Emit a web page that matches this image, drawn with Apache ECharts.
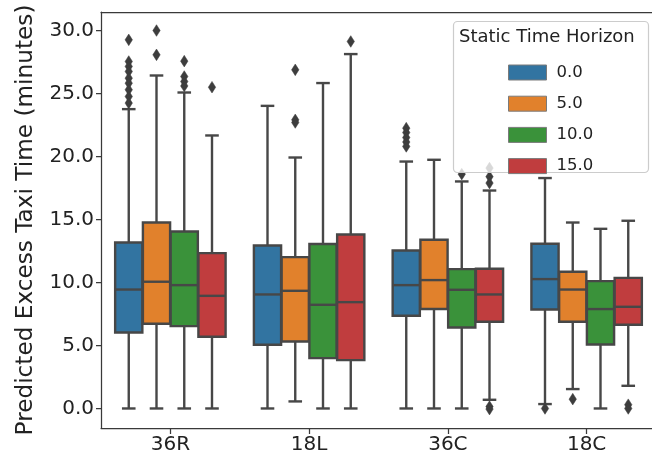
<!DOCTYPE html>
<html>
<head>
<meta charset="utf-8">
<script src="https://cdn.jsdelivr.net/npm/echarts@6/dist/echarts.min.js"></script>
<style>
html,body{margin:0;padding:0;background:#fff;overflow:hidden;}
#chart{width:652px;height:459px;}
</style>
</head>
<body>
<div id="chart"></div>
<script>
// ---- data ----
const categories = ['36R', '18L', '36C', '18C'];
const hues = ['0.0', '5.0', '10.0', '15.0'];
const hueColors = ['#3274a1', '#e1812c', '#3a923a', '#c03d3e'];
const yTicks = [0, 5, 10, 15, 20, 25, 30];

// [min whisker, Q1, median, Q3, max whisker] per category
const stats0 = [
  [0.0, 6.03, 9.44, 13.17, 23.76],
  [0.0, 5.06, 9.05, 12.94, 24.02],
  [0.0, 7.36, 9.79, 12.54, 19.6],
  [0.35, 7.86, 10.27, 13.07, 18.29]
];
const stats5 = [
  [0.0, 6.72, 10.06, 14.76, 26.43],
  [0.56, 5.32, 9.34, 12.01, 19.92],
  [0.0, 7.89, 10.19, 13.39, 19.74],
  [1.54, 6.88, 9.44, 10.85, 14.76]
];
const stats10 = [
  [0.0, 6.54, 9.79, 14.05, 25.08],
  [0.0, 4.0, 8.23, 13.05, 25.83],
  [0.0, 6.43, 9.42, 11.06, 18.02],
  [0.0, 5.08, 7.89, 10.11, 14.26]
];
const stats15 = [
  [0.0, 5.69, 8.94, 12.33, 21.67],
  [0.0, 3.84, 8.44, 13.81, 28.13],
  [0.69, 6.88, 9.05, 11.09, 17.3],
  [1.8, 6.64, 8.07, 10.37, 14.9]
];

// outliers: [category index, value]
const outliers0 = [
  [0, 29.26], [0, 27.54], [0, 27.15], [0, 26.75], [0, 26.22], [0, 25.82], [0, 25.3], [0, 24.76], [0, 24.24],
  [2, 22.25], [2, 21.9], [2, 21.5], [2, 21.15], [2, 20.8],
  [3, 0.0]
];
const outliers5 = [
  [0, 30.0], [0, 28.07],
  [1, 26.88], [1, 22.91], [1, 22.7],
  [3, 0.74]
];
const outliers10 = [
  [0, 27.57], [0, 26.35], [0, 25.95], [0, 25.6],
  [2, 18.6]
];
const outliers15 = [
  [0, 25.5],
  [1, 29.13],
  [2, 19.08], [2, 18.4], [2, 17.89], [2, 0.15], [2, -0.05],
  [3, 0.3], [3, 0.0]
];

const allStats = [stats0, stats5, stats10, stats15];
const allOutliers = [outliers0, outliers5, outliers10, outliers15];

const FONT = 'DejaVu Sans';
const LINE = '#474747';
const SPINE = { color: '#3a3a3a', width: 1.25 };

function boxRenderer(h) {
  return function (params, api) {
    const cat = api.value(0);
    const band = api.size([1, 0])[0];
    const cx = api.coord([cat, 0])[0] + (h - 1.5) * band * 0.2;
    const bw = band * 0.2 * 0.98;
    const cap = bw * 0.5;
    const y = [1, 2, 3, 4, 5].map(i => api.coord([cat, api.value(i)])[1]);
    const ls = { stroke: LINE, lineWidth: 2.4 };
    return {
      type: 'group',
      children: [
        { type: 'line', shape: { x1: cx, y1: y[0], x2: cx, y2: y[1] }, style: ls },
        { type: 'line', shape: { x1: cx, y1: y[3], x2: cx, y2: y[4] }, style: ls },
        { type: 'line', shape: { x1: cx - cap / 2, y1: y[0], x2: cx + cap / 2, y2: y[0] }, style: ls },
        { type: 'line', shape: { x1: cx - cap / 2, y1: y[4], x2: cx + cap / 2, y2: y[4] }, style: ls },
        { type: 'rect', shape: { x: cx - bw / 2, y: y[3], width: bw, height: y[1] - y[3] },
          style: { fill: hueColors[h], stroke: LINE, lineWidth: 2.4 } },
        { type: 'line', shape: { x1: cx - bw / 2, y1: y[2], x2: cx + bw / 2, y2: y[2] }, style: ls }
      ]
    };
  };
}

function outlierRenderer(h) {
  return function (params, api) {
    const cat = api.value(0);
    const band = api.size([1, 0])[0];
    const p = api.coord([cat, api.value(1)]);
    const cx = p[0] + (h - 1.5) * band * 0.2;
    const cy = p[1];
    const w = 3.7, hh = 5.8;
    return {
      type: 'polygon',
      shape: { points: [[cx, cy - hh], [cx + w, cy], [cx, cy + hh], [cx - w, cy]] },
      style: { fill: '#3d3d3d', stroke: '#3d3d3d', lineWidth: 0.5 }
    };
  };
}

const series = [];
hues.forEach((name, h) => {
  series.push({
    name: name,
    type: 'custom',
    renderItem: boxRenderer(h),
    itemStyle: { color: hueColors[h] },
    encode: { x: 0, y: [1, 2, 3, 4, 5] },
    data: allStats[h].map((s, i) => [i].concat(s)),
    z: 2
  });
});
hues.forEach((name, h) => {
  series.push({
    name: name,
    type: 'custom',
    renderItem: outlierRenderer(h),
    itemStyle: { color: hueColors[h] },
    encode: { x: 0, y: 1 },
    data: allOutliers[h],
    z: 2
  });
});

const chart = echarts.init(document.getElementById('chart'), null, { renderer: 'canvas' });
chart.setOption({
  animation: false,
  backgroundColor: '#ffffff',
  grid: {
    left: 101, top: 12, width: 555, height: 416,
    outerBoundsMode: 'none',
    containLabel: false,
    show: false
  },
  xAxis: [
    {
      type: 'category',
      data: categories,
      boundaryGap: true,
      axisLine: { show: true, onZero: false, lineStyle: SPINE },
      axisTick: { show: true, alignWithLabel: true, length: 6, lineStyle: SPINE },
      axisLabel: { color: '#222', fontFamily: FONT, fontSize: 20, margin: 7 },
      splitLine: { show: false }
    },
    {
      type: 'category',
      data: categories,
      position: 'top',
      boundaryGap: true,
      axisLine: { show: true, onZero: false, lineStyle: SPINE },
      axisTick: { show: false },
      axisLabel: { show: false },
      splitLine: { show: false }
    }
  ],
  yAxis: {
    type: 'value',
    min: -1.55,
    max: 31.47,
    name: 'Predicted Excess Taxi Time (minutes)',
    nameLocation: 'middle',
    nameRotate: 90,
    nameGap: 64,
    nameTextStyle: { color: '#222', fontFamily: FONT, fontSize: 23.2 },
    axisLine: { show: true, lineStyle: SPINE },
    axisTick: { show: true, length: 5, customValues: yTicks, lineStyle: SPINE },
    axisLabel: {
      color: '#222', fontFamily: FONT, fontSize: 20, margin: 7,
      customValues: yTicks,
      formatter: v => Number(v).toFixed(1)
    },
    splitLine: { show: false }
  },
  legend: {
    orient: 'vertical',
    left: 503,
    top: 59,
    itemWidth: 38,
    itemHeight: 15,
    itemGap: 14.2,
    icon: 'rect',
    z: 6,
    textStyle: { color: '#222', fontFamily: FONT, fontSize: 16.5, padding: [0, 0, 0, 5] },
    data: hues.map((n, h) => ({
      name: n,
      itemStyle: { color: hueColors[h], borderColor: '#7a7a7a', borderWidth: 1 }
    }))
  },
  graphic: [
    {
      type: 'rect',
      z: 5,
      shape: { x: 453.5, y: 21.5, width: 195, height: 151, r: 4 },
      style: { fill: 'rgba(255,255,255,0.8)', stroke: '#cccccc', lineWidth: 1.2 }
    },
    {
      type: 'text',
      z: 7,
      style: {
        text: 'Static Time Horizon', x: 459, y: 37.5,
        fill: '#222', font: '18px "DejaVu Sans"', verticalAlign: 'middle', align: 'left'
      }
    }
  ],
  series: series
});
</script>
</body>
</html>
